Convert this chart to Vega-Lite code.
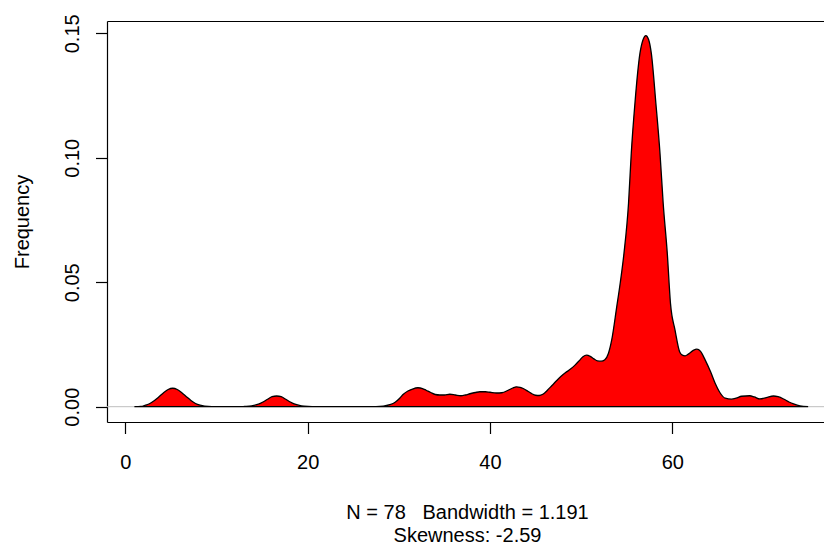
{
  "$schema": "https://vega.github.io/schema/vega-lite/v6.json",
  "width": 717,
  "height": 401,
  "autosize": {"type": "none"},
  "padding": {"left": 107, "top": 21, "right": 0, "bottom": 124},
  "background": "white",
  "config": {
    "view": {"stroke": null},
    "font": "Liberation Sans",
    "axis": {
      "grid": false,
      "domain": true,
      "domainColor": "#000000",
      "domainWidth": 1.2,
      "tickColor": "#000000",
      "tickWidth": 1.2,
      "tickSize": 11.5,
      "labelColor": "#000000",
      "labelFontSize": 20,
      "labelFlush": false,
      "labelOverlap": false,
      "titleColor": "#000000",
      "titleFontSize": 20,
      "titleFontWeight": "normal"
    }
  },
  "data": {
    "values": [
      {"x": 1.0, "y": 0},
      {"x": 1.7, "y": 0.0001},
      {"x": 2.2, "y": 0.0006},
      {"x": 2.7, "y": 0.0013},
      {"x": 3.2, "y": 0.0025},
      {"x": 3.7, "y": 0.0040},
      {"x": 4.2, "y": 0.0056},
      {"x": 4.7, "y": 0.0069},
      {"x": 5.2, "y": 0.0074},
      {"x": 5.7, "y": 0.0069},
      {"x": 6.2, "y": 0.0056},
      {"x": 6.7, "y": 0.0040},
      {"x": 7.2, "y": 0.0025},
      {"x": 7.7, "y": 0.0013},
      {"x": 8.2, "y": 0.0006},
      {"x": 8.7, "y": 0.0002},
      {"x": 9.5, "y": 0},
      {"x": 12.5, "y": 0},
      {"x": 13.1, "y": 0.0001},
      {"x": 13.6, "y": 0.0002},
      {"x": 14.1, "y": 0.0005},
      {"x": 14.6, "y": 0.0010},
      {"x": 15.1, "y": 0.0019},
      {"x": 15.6, "y": 0.0030},
      {"x": 16.1, "y": 0.0040},
      {"x": 16.6, "y": 0.0043},
      {"x": 17.1, "y": 0.0040},
      {"x": 17.6, "y": 0.0030},
      {"x": 18.1, "y": 0.0019},
      {"x": 18.6, "y": 0.0010},
      {"x": 19.1, "y": 0.0005},
      {"x": 19.6, "y": 0.0002},
      {"x": 20.5, "y": 0},
      {"x": 27.5, "y": 0},
      {"x": 28.3, "y": 0.0002},
      {"x": 29.0, "y": 0.0008},
      {"x": 29.6, "y": 0.0018},
      {"x": 30.1, "y": 0.0034},
      {"x": 30.5, "y": 0.0050},
      {"x": 31.0, "y": 0.0063},
      {"x": 31.5, "y": 0.0071},
      {"x": 32.1, "y": 0.0076},
      {"x": 32.6, "y": 0.0073},
      {"x": 33.0, "y": 0.0066},
      {"x": 33.5, "y": 0.0057},
      {"x": 34.0, "y": 0.0049},
      {"x": 34.5, "y": 0.0047},
      {"x": 35.0, "y": 0.0047},
      {"x": 35.6, "y": 0.0050},
      {"x": 36.2, "y": 0.0047},
      {"x": 36.8, "y": 0.0044},
      {"x": 37.3, "y": 0.0047},
      {"x": 37.8, "y": 0.0052},
      {"x": 38.4, "y": 0.0057},
      {"x": 38.9, "y": 0.0060},
      {"x": 39.5, "y": 0.0060},
      {"x": 40.0, "y": 0.0058},
      {"x": 40.7, "y": 0.0055},
      {"x": 41.3, "y": 0.0056},
      {"x": 42.0, "y": 0.0066},
      {"x": 42.5, "y": 0.0075},
      {"x": 42.9, "y": 0.0080},
      {"x": 43.3, "y": 0.0078},
      {"x": 43.7, "y": 0.0072},
      {"x": 44.2, "y": 0.0061},
      {"x": 44.6, "y": 0.0052},
      {"x": 45.0, "y": 0.0046},
      {"x": 45.4, "y": 0.0045},
      {"x": 45.8, "y": 0.0050},
      {"x": 46.3, "y": 0.0066},
      {"x": 46.8, "y": 0.0085},
      {"x": 47.3, "y": 0.0104},
      {"x": 47.8, "y": 0.0122},
      {"x": 48.3, "y": 0.0137},
      {"x": 48.8, "y": 0.0150},
      {"x": 49.3, "y": 0.0166},
      {"x": 49.8, "y": 0.0185},
      {"x": 50.2, "y": 0.0201},
      {"x": 50.6, "y": 0.0207},
      {"x": 51.0, "y": 0.0202},
      {"x": 51.4, "y": 0.0192},
      {"x": 51.8, "y": 0.0184},
      {"x": 52.2, "y": 0.0183},
      {"x": 52.6, "y": 0.0189},
      {"x": 53.0, "y": 0.0215},
      {"x": 53.35, "y": 0.0267},
      {"x": 53.9, "y": 0.0400},
      {"x": 54.3, "y": 0.0500},
      {"x": 54.7, "y": 0.0616},
      {"x": 55.2, "y": 0.0817},
      {"x": 55.5, "y": 0.1018},
      {"x": 55.9, "y": 0.1218},
      {"x": 56.45, "y": 0.1419},
      {"x": 56.8, "y": 0.1475},
      {"x": 57.1, "y": 0.1491},
      {"x": 57.4, "y": 0.1475},
      {"x": 57.7, "y": 0.1419},
      {"x": 58.2, "y": 0.1218},
      {"x": 58.65, "y": 0.1018},
      {"x": 59.0, "y": 0.0817},
      {"x": 59.45, "y": 0.0616},
      {"x": 59.8, "y": 0.0415},
      {"x": 60.3, "y": 0.0308},
      {"x": 60.8, "y": 0.0221},
      {"x": 61.1, "y": 0.0207},
      {"x": 61.4, "y": 0.0204},
      {"x": 61.8, "y": 0.0212},
      {"x": 62.3, "y": 0.0226},
      {"x": 62.7, "y": 0.0231},
      {"x": 63.1, "y": 0.0222},
      {"x": 63.6, "y": 0.0188},
      {"x": 64.2, "y": 0.0140},
      {"x": 64.7, "y": 0.0094},
      {"x": 65.2, "y": 0.0058},
      {"x": 65.8, "y": 0.0034},
      {"x": 66.5, "y": 0.0030},
      {"x": 67.0, "y": 0.0034},
      {"x": 67.6, "y": 0.0042},
      {"x": 68.5, "y": 0.0044},
      {"x": 69.0, "y": 0.0039},
      {"x": 69.6, "y": 0.0031},
      {"x": 70.3, "y": 0.0036},
      {"x": 71.1, "y": 0.0043},
      {"x": 71.6, "y": 0.0040},
      {"x": 72.2, "y": 0.0031},
      {"x": 72.8, "y": 0.0019},
      {"x": 73.3, "y": 0.0011},
      {"x": 74.0, "y": 0.0003},
      {"x": 74.9, "y": 0}
    ]
  },
  "resolve": {"axis": {"x": "independent"}},
  "layer": [
    {
      "data": {"values": [{"zero": 0}]},
      "mark": {"type": "rule", "color": "#bebebe", "strokeWidth": 1},
      "encoding": {
        "y": {"field": "zero", "type": "quantitative", "scale": {"domain": [-0.00615, 0.15494], "nice": false, "zero": false}}
      }
    },
    {
      "mark": {"type": "line", "opacity": 0},
      "encoding": {
        "x": {"field": "x", "type": "quantitative", "scale": {"domain": [-2.007, 76.64], "nice": false, "zero": false},
              "axis": {"orient": "top", "labels": false, "ticks": false, "title": null, "domain": true}},
        "y": {"field": "y", "type": "quantitative"}
      }
    },
    {
      "mark": {"type": "area", "fill": "#ff0000", "stroke": "#000000", "strokeWidth": 1.3, "interpolate": "monotone"},
      "encoding": {
        "x": {
          "field": "x", "type": "quantitative",
          "scale": {"domain": [-2.007, 76.64], "nice": false, "zero": false},
          "axis": {
            "orient": "bottom",
            "values": [0, 20, 40, 60],
            "format": "d",
            "labelBaseline": "alphabetic",
            "labelPadding": 34.5,
            "title": ["N = 78\u00a0\u00a0\u00a0Bandwidth = 1.191", "Skewness: -2.59"],
            "titleX": 360,
            "titleY": 96.3,
            "titleAlign": "center",
            "titleAnchor": "middle",
            "titleBaseline": "alphabetic",
            "titleLineHeight": 23.4
          }
        },
        "y": {
          "field": "y", "type": "quantitative",
          "scale": {"domain": [-0.00615, 0.15494], "nice": false, "zero": false},
          "axis": {
            "values": [0, 0.05, 0.1, 0.15],
            "format": ".2f",
            "labelAngle": -90,
            "labelAlign": "center",
            "labelBaseline": "alphabetic",
            "labelPadding": 17,
            "title": "Frequency",
            "titleAngle": -90,
            "titleX": -79,
            "titleY": 200.5,
            "titleAlign": "center",
            "titleBaseline": "alphabetic"
          }
        }
      }
    }
  ]
}
